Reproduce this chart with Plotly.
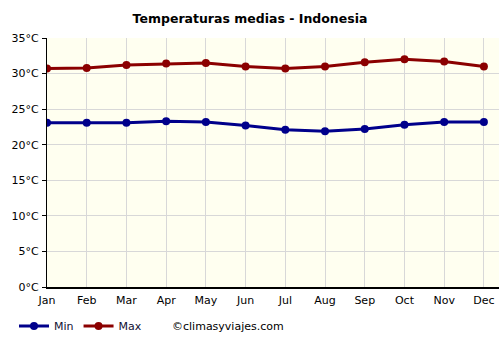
import plotly.graph_objects as go

months = ["Jan", "Feb", "Mar", "Apr", "May", "Jun", "Jul", "Aug", "Sep", "Oct", "Nov", "Dec"]
t_min = [23.1, 23.1, 23.1, 23.3, 23.2, 22.7, 22.1, 21.9, 22.2, 22.8, 23.2, 23.2]
t_max = [30.7, 30.8, 31.2, 31.4, 31.5, 31.0, 30.7, 31.0, 31.6, 32.0, 31.7, 31.0]
y_ticks = [0, 5, 10, 15, 20, 25, 30, 35]
y_labels = [f"{v}°C" for v in y_ticks]

font = "DejaVu Sans"
fig = go.Figure()
fig.add_trace(go.Scatter(x=list(range(12)), y=t_min, name="Min", mode="lines+markers",
                         line=dict(color="#00008b", width=3), marker=dict(size=8, color="#00008b")))
fig.add_trace(go.Scatter(x=list(range(12)), y=t_max, name="Max", mode="lines+markers",
                         line=dict(color="#8b0000", width=3), marker=dict(size=8, color="#8b0000")))

fig.update_layout(
    width=500, height=350,
    margin=dict(l=47, r=1, t=38, b=63, autoexpand=False),
    paper_bgcolor="white", plot_bgcolor="#fffff0",
    font=dict(family=font, size=11, color="black"),
    title=dict(text="<b>Temperaturas medias - Indonesia</b>", x=0.5, xanchor="center",
               xref="container", y=1 - 19 / 350, yanchor="middle", font=dict(size=12.5, family=font)),
    xaxis=dict(tickmode="array", tickvals=list(range(12)), ticktext=months, range=[0, 11.38],
               showgrid=True, gridcolor="#d8d8d8", gridwidth=1, zeroline=False,
               showline=True, linecolor="black", linewidth=2, ticks="", ticklabelstandoff=2,
               fixedrange=True),
    yaxis=dict(tickmode="array", tickvals=y_ticks, ticktext=y_labels, range=[0, 35],
               showgrid=True, gridcolor="#d8d8d8", gridwidth=1, zeroline=False,
               showline=True, linecolor="black", linewidth=1, ticks="outside", ticklen=4,
               tickcolor="black", ticklabelstandoff=1),
    legend=dict(orientation="h", xref="container", yref="container", x=14 / 500, xanchor="left",
                y=1 - 326 / 350, yanchor="middle",
                font=dict(size=11, family=font, color="#111133"), itemwidth=30),
    showlegend=True,
)
fig.add_annotation(text="©climasyviajes.com", xref="paper", yref="paper", x=(170 - 47) / 452, xanchor="left",
                   y=-(326 - 287) / 249, yanchor="middle", showarrow=False, font=dict(size=11, family=font))
fig.write_html("out.html")
